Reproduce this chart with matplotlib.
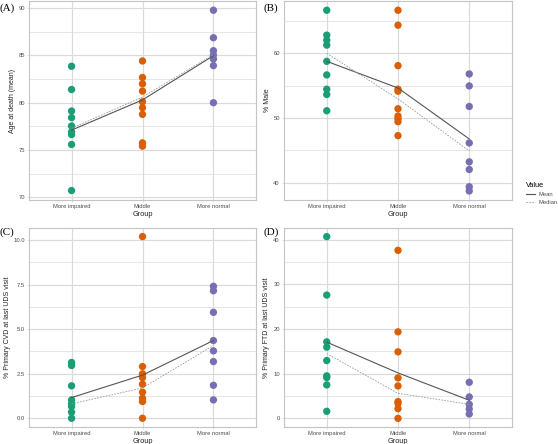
import matplotlib
matplotlib.use("Agg")
import matplotlib.pyplot as plt
from matplotlib.lines import Line2D

plt.rcParams['font.family'] = ['Liberation Sans', 'DejaVu Sans']

groups = ["More impaired", "Middle", "More normal"]
colors = ["#1B9E77", "#D95F02", "#7570B3"]

# Panel A: Age at death (mean)
a_imp = [83.86, 81.40, 79.12, 78.42, 77.54, 76.91, 76.63, 75.58, 70.70]
a_mid = [84.42, 82.67, 82.00, 81.23, 80.10, 79.47, 78.77, 75.75, 75.40]
a_nor = [89.79, 86.88, 85.51, 85.05, 84.63, 83.93, 80.00]
a_mean = [77.10, 80.30, 84.98]
a_median = [77.30, 80.60, 85.10]

# Panel B: % Male
b_imp = [66.67, 62.82, 62.05, 61.28, 58.77, 56.67, 54.46, 53.64, 51.13]
b_mid = [66.67, 64.36, 58.10, 54.46, 54.15, 51.44, 50.31, 49.90, 49.44, 47.28]
b_nor = [56.82, 54.97, 51.79, 46.15, 43.23, 42.05, 39.38, 38.72]
b_mean = [58.77, 54.65, 46.77]
b_median = [60.00, 52.97, 44.92]

# Panel C: % Primary CVD at last UDS visit
c_imp = [3.13, 2.96, 1.82, 1.03, 0.81, 0.66, 0.34, 0.0]
c_mid = [10.19, 2.90, 2.49, 2.28, 1.91, 1.46, 1.12, 0.94, 0.0]
c_nor = [7.40, 7.15, 5.94, 4.36, 3.78, 3.18, 1.85, 1.03]
c_mean = [1.16, 2.42, 4.36]
c_median = [0.81, 1.70, 4.08]

# Panel D: % Primary FTD at last UDS visit
d_imp = [40.67, 27.59, 17.12, 15.93, 12.93, 9.50, 9.12, 7.48, 1.57]
d_mid = [37.60, 19.36, 14.88, 9.05, 7.25, 3.74, 3.36, 2.17, 0.0]
d_nor = [8.07, 4.79, 3.14, 2.09, 0.97]
d_mean = [17.05, 10.17, 4.04]
d_median = [14.50, 5.60, 3.14]

panels = [
    dict(tag="(A)", pts=[a_imp, a_mid, a_nor], mean=a_mean, median=a_median,
         ylabel="Age at death (mean)", ylim=(69.7, 90.77),
         ticks=[70, 75, 80, 85, 90], labels=["70", "75", "80", "85", "90"],
         minor=[72.5, 77.5, 82.5, 87.5]),
    dict(tag="(B)", pts=[b_imp, b_mid, b_nor], mean=b_mean, median=b_median,
         ylabel="% Male", ylim=(37.33, 68.1),
         ticks=[40, 50, 60], labels=["40", "50", "60"],
         minor=[45, 55, 65]),
    dict(tag="(C)", pts=[c_imp, c_mid, c_nor], mean=c_mean, median=c_median,
         ylabel="% Primary CVD at last UDS visit", ylim=(-0.49, 10.67),
         ticks=[0, 2.5, 5, 7.5, 10], labels=["0.0", "2.5", "5.0", "7.5", "10.0"],
         minor=[1.25, 3.75, 6.25, 8.75]),
    dict(tag="(D)", pts=[d_imp, d_mid, d_nor], mean=d_mean, median=d_median,
         ylabel="% Primary FTD at last UDS visit", ylim=(-1.94, 42.6),
         ticks=[0, 10, 20, 30, 40], labels=["0", "10", "20", "30", "40"],
         minor=[5, 15, 25, 35]),
]

W, H = 558, 444
fig = plt.figure(figsize=(W / 100, H / 100), dpi=100)
fig.patch.set_facecolor("white")

# pixel boxes: (left, top, right, bottom)
boxes = [(29, 1, 256, 200), (284, 1, 512, 200), (29, 228, 256, 427), (284, 228, 512, 427)]
tagpos = [(0, 8), (263, 8), (0, 232), (263, 232)]

grid_col = "#dadada"
border_col = "#c4c4c4"
txt_col = "#4d4d4d"

for p, (l, t, r, b), (tx, ty) in zip(panels, boxes, tagpos):
    ax = fig.add_axes([l / W, 1 - b / H, (r - l) / W, (b - t) / H])
    x = list(range(len(groups)))
    ax.set_xlim(-0.6, 2.6)
    ax.set_ylim(*p["ylim"])
    for m in p["minor"]:
        ax.axhline(m, color=grid_col, lw=0.45, zorder=0)
    for tk in p["ticks"]:
        ax.axhline(tk, color=grid_col, lw=0.85, zorder=0)
    for xi in x:
        ax.axvline(xi, color=grid_col, lw=0.85, zorder=0)
    for xi, vals, c in zip(x, p["pts"], colors):
        ax.scatter([xi] * len(vals), vals, s=28, color=c, edgecolors="none", zorder=3)
    ax.plot(x, p["mean"], color="#555555", lw=0.8, zorder=4)
    ax.plot(x, p["median"], color="#9a9a9a", lw=0.6, ls=(0, (2, 1.5)), zorder=4)
    ax.set_xticks(x)
    ax.set_xticklabels(groups, fontsize=4.2, color=txt_col)
    ax.set_yticks(p["ticks"])
    ax.set_yticklabels(p["labels"], fontsize=4.2, color=txt_col)
    ax.tick_params(length=1.5, width=0.4, color=border_col, pad=1.5)
    ax.set_xlabel("Group", fontsize=5.3, color="#222222", labelpad=1)
    ax.set_ylabel(p["ylabel"], fontsize=5, color="#222222", labelpad=2)
    for s in ax.spines.values():
        s.set_color(border_col)
        s.set_linewidth(0.8)
    fig.text(tx / W, 1 - ty / H, p["tag"], fontsize=8, family="Liberation Serif",
             va="center", ha="left")

# legend
handles = [Line2D([0], [0], color="#555555", lw=0.8),
           Line2D([0], [0], color="#9a9a9a", lw=0.6, ls=(0, (2, 1.5)))]
leg = fig.legend(handles, ["Mean", "Median"], title="Value",
                 loc="upper left", bbox_to_anchor=(521 / W, 1 - 177 / H),
                 frameon=False, fontsize=4.2, title_fontsize=5.3,
                 handlelength=1.5, handletextpad=0.6, labelspacing=0.5)
leg._legend_box.align = "left"
for txt in leg.get_texts():
    txt.set_color(txt_col)

fig.savefig("out.png", dpi=100, facecolor="white")
